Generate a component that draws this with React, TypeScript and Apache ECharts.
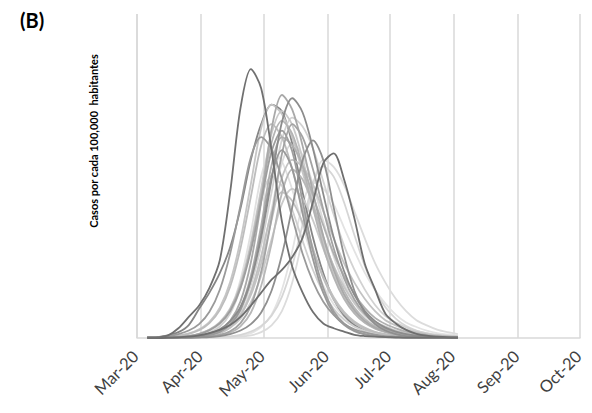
import React, { useEffect, useRef } from "react";
import * as echarts from "echarts";

// Sample dates (every 5 days)
const dates = [
  "2020-03-06", "2020-03-11", "2020-03-16", "2020-03-21", "2020-03-26", "2020-03-31",
  "2020-04-05", "2020-04-10", "2020-04-15", "2020-04-20", "2020-04-25", "2020-04-30",
  "2020-05-05", "2020-05-10", "2020-05-15", "2020-05-20", "2020-05-25", "2020-05-30",
  "2020-06-04", "2020-06-09", "2020-06-14", "2020-06-19", "2020-06-24", "2020-06-29",
  "2020-07-04", "2020-07-09", "2020-07-14", "2020-07-19", "2020-07-24", "2020-07-29",
  "2020-08-03",
];

const monthTicks = ["Mar-20", "Apr-20", "May-20", "Jun-20", "Jul-20", "Aug-20", "Sep-20", "Oct-20"];
const monthNames = ["Jan", "Feb", "Mar", "Apr", "May", "Jun", "Jul", "Aug", "Sep", "Oct", "Nov", "Dec"];

// Cases per 100,000 inhabitants (relative units), one array per state curve
const s01 = [0.1, 0.2, 0.8, 3, 6.5, 10, 15.5, 24, 45, 71, 83, 77, 58, 36, 22, 14, 8, 4.5, 3, 2, 1, 0.6, 0.4, 0.3, 0.2, 0.1, 0.1, 0.1, 0.1, 0.1, 0.1];
const s02 = [0, 0, 0.1, 0.2, 0.4, 0.8, 1.5, 2.5, 4, 6.5, 10, 14, 18, 21, 25, 31, 42, 54, 57, 49, 37, 23, 15, 7.5, 4.5, 2.5, 1.3, 0.7, 0.4, 0.2, 0.1];
const s03 = [0.1, 0.3, 0.8, 1.8, 4, 9, 14, 20, 28, 40, 55, 66, 72, 70, 60, 45, 31, 20, 12, 7, 4, 2.2, 1.2, 0.7, 0.4, 0.2, 0.1, 0.1, 0.1, 0.1, 0.1];
const s04 = [0.1, 0.1, 0.1, 0.2, 0.4, 0.7, 1.4, 2.7, 5.2, 9.6, 17.8, 31.1, 48.8, 66.6, 74, 69.6, 58.5, 44.4, 31.1, 20.7, 13.3, 8.4, 5.2, 3.2, 2, 1.2, 0.7, 0.4, 0.3, 0.2, 0.1];
const s05 = [0.1, 0.1, 0.1, 0.1, 0.2, 0.5, 1.1, 2.4, 5.3, 11.3, 23.3, 42, 64.5, 75, 70.5, 59.3, 45, 31.5, 21, 13.5, 8.6, 5.3, 3.2, 2, 1.2, 0.8, 0.5, 0.3, 0.2, 0.1, 0.1];
const s06 = [0.1, 0.1, 0.2, 0.4, 0.7, 1.3, 2.6, 4.9, 9.1, 16.8, 29.4, 46.2, 63, 70, 65.8, 55.3, 42, 29.4, 19.6, 12.6, 8, 4.9, 3, 1.9, 1.1, 0.7, 0.4, 0.3, 0.2, 0.1, 0.1];
const s07 = [0.1, 0.2, 0.3, 0.7, 1.3, 2.4, 4.6, 8.6, 15.8, 27.7, 43.6, 59.4, 66, 62, 52.1, 39.6, 27.7, 18.5, 11.9, 7.5, 4.6, 2.8, 1.8, 1.1, 0.7, 0.4, 0.3, 0.2, 0.1, 0.1, 0.1];
const s08 = [0.1, 0.1, 0.1, 0.2, 0.3, 0.7, 1.3, 2.5, 4.8, 8.8, 16.3, 28.6, 44.9, 61.2, 68, 65.3, 58.5, 48.3, 38.1, 28.6, 21.1, 15, 10.2, 6.8, 4.8, 3.3, 2.2, 1.5, 1, 0.7, 0.5];
const s09 = [0.1, 0.1, 0.1, 0.1, 0.2, 0.4, 0.9, 2, 4.3, 9.3, 19.2, 34.7, 53.3, 62, 59.5, 53.3, 44, 34.7, 26, 19.2, 13.6, 9.3, 6.2, 4.3, 3, 2, 1.4, 0.9, 0.6, 0.4, 0.3];
const s10 = [0.1, 0.1, 0.1, 0.2, 0.3, 0.6, 1.1, 2.2, 4.2, 7.8, 14.4, 25.2, 39.6, 54, 60, 56.4, 47.4, 36, 25.2, 16.8, 10.8, 6.8, 4.2, 2.6, 1.6, 1, 0.6, 0.4, 0.2, 0.1, 0.1];
const s11 = [0.1, 0.1, 0.2, 0.3, 0.6, 1.2, 2.4, 4.5, 8.3, 15.4, 26.9, 42.2, 57.6, 64, 57.6, 42.2, 26.9, 15.4, 8.3, 4.5, 2.4, 1.2, 0.6, 0.3, 0.2, 0.1, 0.1, 0.1, 0.1, 0.1, 0.1];
const s12 = [0.1, 0.1, 0.1, 0.1, 0.1, 0.2, 0.3, 0.6, 1.2, 2.3, 4.3, 7.9, 14.6, 25.6, 40.3, 54.9, 61, 54.9, 40.3, 25.6, 14.6, 7.9, 4.3, 2.3, 1.2, 0.6, 0.3, 0.2, 0.1, 0.1, 0.1];
const s13 = [0.1, 0.1, 0.1, 0.1, 0.1, 0.1, 0.2, 0.3, 0.5, 1, 2, 3.7, 6.9, 12.7, 22.3, 35, 47.7, 53, 49.8, 41.9, 31.8, 22.3, 14.8, 9.5, 6, 3.7, 2.3, 1.4, 0.8, 0.5, 0.3];
const s14 = [0.1, 0.1, 0.1, 0.1, 0.3, 0.6, 1, 2, 3.9, 7.2, 13.2, 23.1, 36.3, 49.5, 55, 52.8, 47.3, 39.1, 30.8, 23.1, 17.1, 12.1, 8.3, 5.5, 3.9, 2.6, 1.8, 1.2, 0.8, 0.6, 0.4];
const s15 = [0.1, 0.1, 0.1, 0.2, 0.4, 0.9, 1.9, 4.1, 8.7, 18, 32.5, 49.9, 58, 54.5, 45.8, 34.8, 24.4, 16.2, 10.4, 6.6, 4.1, 2.5, 1.6, 0.9, 0.6, 0.3, 0.2, 0.1, 0.1, 0.1, 0.1];
const s16 = [0.1, 0.1, 0.1, 0.1, 0.1, 0.2, 0.4, 0.8, 1.7, 3.6, 7.8, 16.1, 29.1, 44.7, 52, 48.9, 41.1, 31.2, 21.8, 14.6, 9.4, 5.9, 3.6, 2.2, 1.4, 0.8, 0.5, 0.3, 0.2, 0.1, 0.1];
const s17 = [0.1, 0.1, 0.1, 0.2, 0.4, 0.8, 1.6, 3.5, 7.5, 15.5, 28, 43, 50, 47, 39.5, 30, 21, 14, 9, 5.7, 3.5, 2.2, 1.4, 0.8, 0.5, 0.3, 0.2, 0.1, 0.1, 0.1, 0.1];
const s18 = [0.1, 0.1, 0.1, 0.1, 0.1, 0.2, 0.5, 1, 2.1, 4.6, 9.9, 20.5, 37, 56.8, 66, 62, 52.1, 39.6, 27.7, 18.5, 11.9, 7.5, 4.6, 2.8, 1.8, 1.1, 0.7, 0.4, 0.3, 0.2, 0.1];
const s19 = [0.1, 0.1, 0.1, 0.1, 0.1, 0.1, 0.1, 0.1, 0.3, 0.7, 1.5, 3.4, 7.2, 14.9, 26.9, 41.3, 48, 46.1, 41.3, 34.1, 26.9, 20.2, 14.9, 10.6, 7.2, 4.8, 3.4, 2.3, 1.5, 1.1, 0.7];
const s20 = [0.1, 0.1, 0.1, 0.1, 0.1, 0.3, 0.7, 1.4, 3.2, 6.8, 14, 25.2, 38.7, 45, 42.3, 35.6, 27, 18.9, 12.6, 8.1, 5.1, 3.2, 1.9, 1.2, 0.7, 0.5, 0.3, 0.2, 0.1, 0.1, 0.1];
const s21 = [0.1, 0.1, 0.2, 0.3, 0.6, 1.3, 2.5, 4.7, 8.7, 16.1, 28.1, 44.2, 60.3, 67, 63, 52.9, 40.2, 28.1, 18.8, 12.1, 7.6, 4.7, 2.9, 1.8, 1.1, 0.7, 0.4, 0.3, 0.2, 0.1, 0.1];
const s22 = [0.1, 0.1, 0.1, 0.1, 0.1, 0.1, 0.1, 0.1, 0.2, 0.4, 0.8, 1.8, 3.9, 8.3, 17.1, 30.8, 47.3, 55, 52.8, 47.3, 39.1, 30.8, 23.1, 17.1, 12.1, 8.3, 5.5, 3.9, 2.6, 1.8, 1.2];
const s23 = [0.1, 0.1, 0.1, 0.1, 0.2, 0.5, 0.9, 1.7, 3.2, 6, 11, 19.3, 30.4, 41.4, 46, 43.2, 36.3, 27.6, 19.3, 12.9, 8.3, 5.2, 3.2, 2, 1.2, 0.7, 0.5, 0.3, 0.2, 0.1, 0.1];
const s24 = [0.1, 0.1, 0.1, 0.1, 0.2, 0.4, 0.9, 1.9, 4.1, 8.7, 18, 32.5, 49.9, 58, 52.2, 38.3, 24.4, 13.9, 7.5, 4.1, 2.1, 1.1, 0.6, 0.3, 0.1, 0.1, 0.1, 0.1, 0.1, 0.1, 0.1];
const s25 = [0.2, 0.3, 0.6, 1.2, 2.3, 4.3, 8.1, 14.9, 26, 40.9, 55.8, 62, 58.3, 49, 37.2, 26, 17.4, 11.2, 7.1, 4.3, 2.7, 1.7, 1, 0.6, 0.4, 0.2, 0.1, 0.1, 0.1, 0.1, 0.1];
const s26 = [0.1, 0.2, 0.4, 0.7, 1.4, 2.7, 5, 9.4, 17.3, 30.2, 47.5, 64.8, 72, 69.1, 61.9, 51.1, 40.3, 30.2, 22.3, 15.8, 10.8, 7.2, 5, 3.5, 2.3, 1.6, 1.1, 0.7, 0.5, 0.3, 0.2];

const curves = [
  { data: s19, color: "#e3e3e3" },
  { data: s15, color: "#e0e0e0" },
  { data: s22, color: "#dcdcdc" },
  { data: s10, color: "#dadada" },
  { data: s13, color: "#d6d6d6" },
  { data: s03, color: "#858585" },
  { data: s08, color: "#d2d2d2" },
  { data: s17, color: "#cfcfcf" },
  { data: s23, color: "#cacaca" },
  { data: s06, color: "#c9c9c9" },
  { data: s26, color: "#c6c6c6" },
  { data: s14, color: "#c3c3c3" },
  { data: s20, color: "#c0c0c0" },
  { data: s07, color: "#bdbdbd" },
  { data: s16, color: "#b8b8b8" },
  { data: s21, color: "#b4b4b4" },
  { data: s09, color: "#b0b0b0" },
  { data: s05, color: "#a9a9a9" },
  { data: s18, color: "#a3a3a3" },
  { data: s11, color: "#9e9e9e" },
  { data: s25, color: "#9a9a9a" },
  { data: s24, color: "#999999" },
  { data: s12, color: "#8f8f8f" },
  { data: s04, color: "#8c8c8c" },
  { data: s02, color: "#6e6e6e" },
  { data: s01, color: "#707070" },
];

export default function App() {
  const ref = useRef<HTMLDivElement>(null);
  useEffect(() => {
    if (!ref.current) return;
    const chart = echarts.init(ref.current, undefined, { renderer: "svg" });
    const font = "Lato, 'Open Sans', sans-serif";
    chart.setOption({
      animation: false,
      backgroundColor: "#ffffff",
      grid: { left: 137, right: 12, top: 14, bottom: 75 },
      xAxis: {
        type: "time",
        min: "2020-03-01",
        max: "2020-10-01",
        splitNumber: 7,
        axisLine: { show: true, lineStyle: { color: "#d9d9d9", width: 1.5 } },
        axisTick: { show: false },
        splitLine: { show: true, lineStyle: { color: "#d9d9d9", width: 1.5 } },
        axisLabel: {
          rotate: 45,
          margin: 14,
          padding: [0, 2, 0, 0],
          color: "#404040",
          fontSize: 16.5,
          fontFamily: font,
          hideOverlap: false,
          showMinLabel: true,
          showMaxLabel: true,
          formatter: (v: number) => {
            const d = new Date(v);
            const label = monthNames[d.getMonth()] + "-20";
            return monthTicks.includes(label) ? label : "";
          },
        },
      },
      yAxis: {
        type: "value",
        min: 0,
        max: 100,
        axisLine: { show: false },
        axisTick: { show: false },
        axisLabel: { show: false },
        splitLine: { show: false },
      },
      graphic: [
        {
          type: "text",
          left: 20,
          top: 10,
          style: {
            text: "(B)",
            font: `bold 20px ${font}`,
            fill: "#000000",
          },
        },
        {
          type: "text",
          x: 93,
          y: 141,
          rotation: Math.PI / 2,
          style: {
            text: "Casos por cada 100,000  habitantes",
            font: `bold 11px ${font}`,
            fill: "#000000",
            align: "center",
            verticalAlign: "middle",
          },
        },
      ],
      series: curves.map((c, i) => ({
        type: "line",
        name: "s" + i,
        data: dates.map((d, j) => [d, c.data[j]]),
        showSymbol: false,
        smooth: 0.3,
        silent: true,
        lineStyle: { color: c.color, width: 1.8 },
        itemStyle: { color: c.color },
        emphasis: { disabled: true },
      })),
    });
    return () => chart.dispose();
  }, []);
  return (
    <div
      ref={ref}
      style={{ position: "fixed", left: 0, top: 0, width: 592, height: 413, background: "#fff" }}
    />
  );
}
